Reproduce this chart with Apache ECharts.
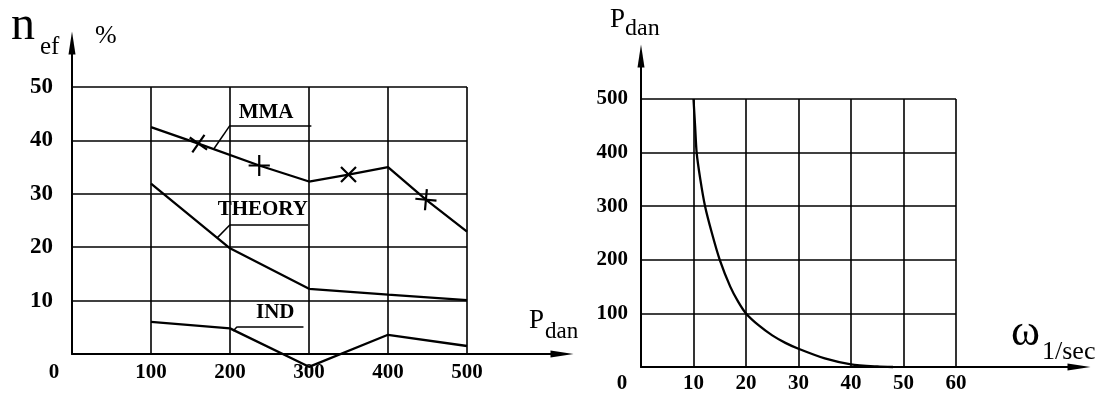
<!DOCTYPE html>
<html>
<head>
<meta charset="utf-8">
<title>n_ef and P_dan</title>
<script src="https://cdn.jsdelivr.net/npm/echarts@6/dist/echarts.min.js"></script>
<style>
  html, body { margin: 0; padding: 0; background: #fff; }
  #chart { width: 1103px; height: 397px; }
</style>
</head>
<body>
<div id="chart"></div>
<script>
/* left panel: efficiency n_ef (%) against load P (dan) */
const mmaLoad = [100, 160, 237, 300, 350, 400, 448, 500];
const mmaEff = [42.5, 39.4, 35.3, 32.3, 33.6, 35.0, 28.9, 22.9];
const mmaCrossed = [false, true, true, false, true, false, true, false];
const theoryLoad = [100, 200, 300, 400, 500];
const theoryEff = [31.9, 19.8, 12.2, 11.1, 10.1];
const indLoad = [100, 200, 300, 400, 500];
const indEff = [6.0, 4.8, -2.4, 3.6, 1.5];
const curveNames = ["MMA", "THEORY", "IND"];

/* right panel: load P (dan) against angular speed w (1/sec) */
const omega = [10, 10.3, 10.6, 11.3, 12.2, 13.5, 15, 17, 18.5, 20, 22.5, 25, 27.5, 30, 35, 40, 45, 48];
const pLoad = [500, 450, 400, 350, 300, 250, 200, 150, 122, 100, 77, 59, 45, 34, 16, 5, 1, 0];

(function () {
  const INK = "#000";
  const SERIF = "'Liberation Serif', 'Times New Roman', serif";

  // cross mark, drawn as a stroke; rotate 45 for a "+"
  const CROSS = "path://M0,0L10,10M10,0L0,10";
  const CROSS_ROT = [0, 10, 45, 0, 0, 0, 40, 0];

  const tickFont = {
    color: INK,
    fontFamily: SERIF,
    fontWeight: "bold",
    fontSize: 21
  };

  const gridLine = { color: INK, width: 1.6 };
  const noAxis = { show: false };

  // value axis carrying the grid + tick labels (axis line drawn by the outer axis)
  function gridAxis(gridIndex, max, interval, label) {
    return {
      type: "value",
      gridIndex,
      min: 0,
      max,
      interval,
      axisLine: noAxis,
      axisTick: noAxis,
      splitLine: { show: true, lineStyle: gridLine },
      axisLabel: label
    };
  }

  // outer axis: just the line with the arrow head
  function arrowAxis(gridIndex) {
    return {
      type: "value",
      gridIndex,
      min: 0,
      max: 1,
      axisLine: {
        show: true,
        onZero: false,
        symbol: ["none", "triangle"],
        symbolSize: [7, 23],
        lineStyle: { color: INK, width: 2 }
      },
      axisTick: noAxis,
      axisLabel: noAxis,
      splitLine: noAxis
    };
  }

  // "0" at the corner is pushed left of the axis with padding
  function xLabel(padRight, margin) {
    return Object.assign({}, tickFont, {
      margin,
      formatter: (v) => (v === 0 ? "{z|0}" : String(v)),
      rich: { z: Object.assign({}, tickFont, { padding: [0, padRight, 0, 0] }) }
    });
  }

  function yLabel(margin, size) {
    return Object.assign({}, tickFont, {
      margin,
      fontSize: size,
      showMinLabel: false
    });
  }

  function note(text, at, underline, leader) {
    return {
      markLine: {
        silent: true,
        animation: false,
        symbol: "none",
        label: { show: false },
        lineStyle: { color: INK, width: 1.5, type: "solid" },
        emphasis: { disabled: true },
        data: [
          [{ coord: underline[0] }, { coord: underline[1] }],
          [{ coord: underline[0] }, { coord: leader }]
        ]
      },
      markPoint: {
        silent: true,
        animation: false,
        symbol: "rect",
        symbolSize: 1,
        itemStyle: { color: "rgba(0,0,0,0)" },
        label: Object.assign({}, tickFont, { show: true, position: "inside", formatter: text }),
        data: [{ coord: at }]
      }
    };
  }

  function lineSeries(name, xs, ys, extra) {
    return Object.assign({
      name,
      type: "line",
      xAxisIndex: 0,
      yAxisIndex: 0,
      clip: false,
      symbol: "none",
      showSymbol: true,
      symbolSize: 15,
      itemStyle: { color: INK, borderColor: INK, borderWidth: 2.2 },
      lineStyle: { color: INK, width: 2.3 },
      emphasis: { disabled: true },
      data: xs.map((x, i) => [x, ys[i]])
    }, extra);
  }

  function label(text, x, y, size, weight) {
    return {
      type: "text",
      x,
      y,
      silent: true,
      style: {
        text,
        fill: INK,
        font: `${weight || "normal"} ${size}px ${SERIF}`,
        align: "left",
        verticalAlign: "middle",
        textAlign: "left",
        textVerticalAlign: "middle"
      }
    };
  }

  const mmaData = mmaLoad.map((x, i) => (
    mmaCrossed[i]
      ? { value: [x, mmaEff[i]], symbol: CROSS, symbolRotate: CROSS_ROT[i] }
      : { value: [x, mmaEff[i]] }
  ));

  const option = {
    animation: false,
    backgroundColor: "#fff",

    grid: [
      { left: 72, top: 87, width: 395, height: 267 },   // left panel cells
      { left: 72, top: 43, right: 541, bottom: 43 },    // left panel arrows
      { left: 641, top: 99, width: 315, height: 268 },  // right panel cells
      { left: 641, top: 56, right: 24, bottom: 30 }     // right panel arrows
    ],

    xAxis: [
      gridAxis(0, 500, 100, xLabel(36, 8)),
      arrowAxis(1),
      gridAxis(2, 60, 10, xLabel(38, 6)),
      arrowAxis(3)
    ],

    yAxis: [
      gridAxis(0, 50, 10, yLabel(19, 23)),
      arrowAxis(1),
      gridAxis(2, 500, 100, yLabel(13, 21)),
      arrowAxis(3)
    ],

    series: [
      Object.assign(
        lineSeries(curveNames[0], mmaLoad, mmaEff, { data: mmaData }),
        note(curveNames[0], [245.7, 45.3], [[200, 42.8], [303, 42.8]], [179, 38.3])
      ),
      Object.assign(
        lineSeries(curveNames[1], theoryLoad, theoryEff),
        note(curveNames[1], [241.5, 27.0], [[200, 24.2], [299, 24.2]], [183.5, 21.7])
      ),
      Object.assign(
        lineSeries(curveNames[2], indLoad, indEff),
        note(curveNames[2], [257.3, 7.7], [[209, 5.1], [293, 5.1]], [204, 4.3])
      ),
      lineSeries("P(w)", omega, pLoad, {
        xAxisIndex: 2,
        yAxisIndex: 2,
        smooth: 0.25,
        showSymbol: false
      })
    ],

    graphic: [
      label("n", 11, 26, 48),
      label("ef", 40, 47, 25),
      label("%", 95, 36, 26),
      label("P", 529, 321, 27),
      label("dan", 545, 332, 23),
      label("P", 610, 20, 27),
      label("dan", 625, 29, 24),
      label("\u03c9", 1011, 333, 44),
      label("1/sec", 1042, 352, 26)
    ]
  };

  const chart = echarts.init(document.getElementById("chart"), null, { renderer: "canvas" });
  chart.setOption(option);
})();
</script>
</body>
</html>
